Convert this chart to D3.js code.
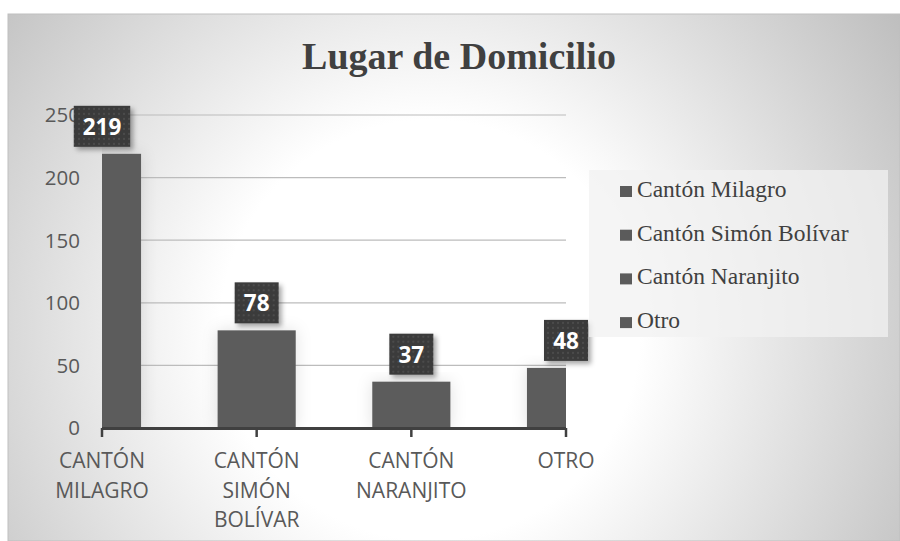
<!DOCTYPE html>
<html>
<head>
<meta charset="utf-8">
<script src="https://cdn.jsdelivr.net/npm/d3@7"></script>
<style>
  body { margin: 0; background: #fff; }
  svg { display: block; }
</style>
</head>
<body>
<svg id="chart" width="900" height="541"></svg>
<script>
var categories = ["CANTÓN MILAGRO", "CANTÓN SIMÓN BOLÍVAR", "CANTÓN NARANJITO", "OTRO"];
var axisLines = [["CANTÓN", "MILAGRO"], ["CANTÓN", "SIMÓN", "BOLÍVAR"], ["CANTÓN", "NARANJITO"], ["OTRO"]];
var values = [219, 78, 37, 48];
var legendLabels = ["Cantón Milagro", "Cantón Simón Bolívar", "Cantón Naranjito", "Otro"];
var yTicks = [0, 50, 100, 150, 200, 250];
var title = "Lugar de Domicilio";

var svg = d3.select("#chart"),
    plotLeft = 102, plotRight = 566, plotTop = 115, plotBottom = 428;

var defs = svg.append("defs");

var grad = defs.append("radialGradient")
    .attr("id", "bg")
    .attr("gradientUnits", "userSpaceOnUse")
    .attr("cx", 430).attr("cy", 330).attr("r", 600);
grad.append("stop").attr("offset", "0").attr("stop-color", "#ffffff");
grad.append("stop").attr("offset", "0.35").attr("stop-color", "#ffffff");
grad.append("stop").attr("offset", "1").attr("stop-color", "#b8b8b8");

var shadow = defs.append("filter")
    .attr("id", "shadow")
    .attr("x", "-30%").attr("y", "-30%").attr("width", "160%").attr("height", "160%");
shadow.append("feDropShadow")
    .attr("dx", 3).attr("dy", 3).attr("stdDeviation", 2.5)
    .attr("flood-color", "#000").attr("flood-opacity", 0.35);

var barGlow = defs.append("filter")
    .attr("id", "glow")
    .attr("x", "-40%").attr("y", "-20%").attr("width", "180%").attr("height", "140%");
barGlow.append("feDropShadow")
    .attr("dx", 0).attr("dy", 0).attr("stdDeviation", 8)
    .attr("flood-color", "#000").attr("flood-opacity", 0.12);

var pat = defs.append("pattern")
    .attr("id", "dots")
    .attr("patternUnits", "userSpaceOnUse")
    .attr("width", 5).attr("height", 5);
pat.append("rect").attr("width", 5).attr("height", 5).attr("fill", "#3a3a3a");
pat.append("rect").attr("x", 1).attr("y", 1).attr("width", 2).attr("height", 2).attr("fill", "#4c4c4c");

defs.append("clipPath").attr("id", "plotClip")
  .append("rect")
    .attr("x", plotLeft).attr("y", 0)
    .attr("width", plotRight - plotLeft).attr("height", plotBottom + 1);

// background frame
svg.append("rect")
    .attr("x", 8).attr("y", 14)
    .attr("width", 892).attr("height", 527)
    .attr("fill", "url(#bg)")
    .attr("stroke", "#bfbfbf")
    .attr("stroke-width", 1);

var x = d3.scalePoint()
    .domain(categories)
    .range([plotLeft, plotRight]);

var y = d3.scaleLinear()
    .domain([0, 250])
    .range([plotBottom, plotTop]);

var barWidth = x.step() * 0.505;

// gridlines
svg.append("g")
  .selectAll("line")
  .data(yTicks.slice(1))
  .enter().append("line")
    .attr("x1", plotLeft).attr("x2", plotRight)
    .attr("y1", function(d) { return y(d); })
    .attr("y2", function(d) { return y(d); })
    .attr("stroke", "#bcbcbc")
    .attr("stroke-width", 1.2);

// y tick labels
svg.append("g")
  .selectAll("text")
  .data(yTicks)
  .enter().append("text")
    .attr("x", 80)
    .attr("y", function(d) { return y(d); })
    .attr("dy", "0.36em")
    .attr("text-anchor", "end")
    .attr("font-family", "'Open Sans', sans-serif")
    .attr("font-size", 20.5)
    .attr("fill", "#595959")
    .text(function(d) { return d; });

// bars
svg.append("g")
    .attr("clip-path", "url(#plotClip)")
  .selectAll("rect")
  .data(values)
  .enter().append("rect")
    .attr("x", function(d, i) { return x(categories[i]) - barWidth / 2; })
    .attr("y", function(d) { return y(d); })
    .attr("width", barWidth)
    .attr("height", function(d) { return y(0) - y(d); })
    .attr("fill", "#5b5b5b")
    .attr("filter", "url(#glow)");

// category axis
var axis = svg.append("g");
axis.append("line")
    .attr("x1", plotLeft).attr("x2", plotRight)
    .attr("y1", y(0) + 0.5).attr("y2", y(0) + 0.5)
    .attr("stroke", "#404040")
    .attr("stroke-width", 3);
axis.selectAll(".tick")
  .data(categories)
  .enter().append("line")
    .attr("class", "tick")
    .attr("x1", function(d) { return x(d); })
    .attr("x2", function(d) { return x(d); })
    .attr("y1", y(0))
    .attr("y2", y(0) + 9)
    .attr("stroke", "#404040")
    .attr("stroke-width", 2.5);

axis.selectAll(".lbl")
  .data(axisLines)
  .enter().append("text")
    .attr("class", "lbl")
    .attr("text-anchor", "middle")
    .attr("font-family", "'Open Sans', sans-serif")
    .attr("font-size", 21)
    .attr("fill", "#595959")
    .each(function(lines, i) {
      d3.select(this).selectAll("tspan")
        .data(lines)
        .enter().append("tspan")
          .attr("x", x(categories[i]))
          .attr("y", function(d, j) { return 468 + j * 29.5; })
          .text(function(d) { return d; });
    });

// data labels
var labels = svg.append("g")
  .selectAll("g")
  .data(values)
  .enter().append("g")
    .attr("transform", function(d, i) {
      return "translate(" + x(categories[i]) + "," + (y(d) - 7) + ")";
    });

labels.append("rect")
    .attr("x", function(d) { return -(String(d).length * 12.5 + 19) / 2; })
    .attr("y", -41)
    .attr("width", function(d) { return String(d).length * 12.5 + 19; })
    .attr("height", 41)
    .attr("fill", "url(#dots)")
    .attr("filter", "url(#shadow)");

labels.append("text")
    .attr("y", -12)
    .attr("text-anchor", "middle")
    .attr("font-family", "'Open Sans', sans-serif")
    .attr("font-weight", "bold")
    .attr("font-size", 22.5)
    .attr("fill", "#fff")
    .text(function(d) { return d; });

// title
svg.append("text")
    .attr("x", 459)
    .attr("y", 69)
    .attr("text-anchor", "middle")
    .attr("font-family", "'Liberation Serif', 'Times New Roman', serif")
    .attr("font-weight", "bold")
    .attr("font-size", 38)
    .attr("fill", "#404040")
    .text(title);

// legend
var legendG = svg.append("g");
legendG.append("rect")
    .attr("x", 589).attr("y", 170)
    .attr("width", 299).attr("height", 167)
    .attr("fill", "#f2f2f2")
    .attr("fill-opacity", 0.75);

var legend = legendG.selectAll("g")
  .data(legendLabels)
  .enter().append("g")
    .attr("transform", function(d, i) { return "translate(620," + (197 + i * 43.7) + ")"; });

legend.append("rect")
    .attr("x", 0).attr("y", -11)
    .attr("width", 12).attr("height", 11)
    .attr("fill", "#5b5b5b");

legend.append("text")
    .attr("x", 17)
    .attr("y", 0)
    .attr("font-family", "'Liberation Serif', 'Times New Roman', serif")
    .attr("font-size", 23.5)
    .attr("fill", "#404040")
    .text(function(d) { return d; });
</script>
</body>
</html>
